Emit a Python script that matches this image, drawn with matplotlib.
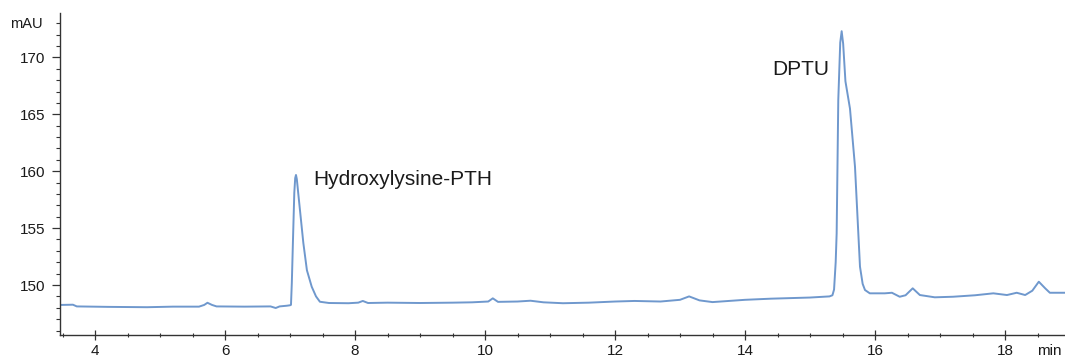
import matplotlib.pyplot as plt
from matplotlib.ticker import MultipleLocator

plt.rcParams['font.family'] = ['Liberation Sans', 'DejaVu Sans']

# Chromatogram trace (time in min, absorbance in mAU)
time_min = [3.47, 3.66, 3.72, 4.2, 4.8, 5.2, 5.6, 5.68, 5.73, 5.80, 5.87,
            6.3, 6.7, 6.78, 6.84, 6.95, 7.00, 7.015, 7.028, 7.045, 7.066,
            7.080, 7.092, 7.105, 7.126, 7.205, 7.26, 7.334, 7.40, 7.46, 7.6,
            7.9, 8.05, 8.12, 8.2, 8.5, 9.0, 9.5, 9.8, 10.05, 10.12, 10.2,
            10.5, 10.7, 10.9, 11.2, 11.6, 12.0, 12.3, 12.7, 13.0, 13.14,
            13.3, 13.5, 14.0, 14.4, 15.0, 15.3, 15.345, 15.37, 15.395, 15.41,
            15.435, 15.465, 15.487, 15.51, 15.545, 15.615, 15.692, 15.769,
            15.81, 15.846, 15.92, 16.15, 16.26, 16.38, 16.47, 16.58, 16.69,
            16.92, 17.2, 17.54, 17.82, 18.03, 18.18, 18.31, 18.42, 18.52,
            18.62, 18.69, 18.92]
absorb_mAU = [148.25, 148.27, 148.12, 148.08, 148.05, 148.10, 148.10, 148.25,
              148.44, 148.25, 148.12, 148.10, 148.12, 147.98, 148.12, 148.18,
              148.22, 148.26, 150.2, 153.8, 158.1, 159.4, 159.67, 159.3,
              158.1, 153.7, 151.3, 149.85, 149.0, 148.53, 148.42, 148.40,
              148.45, 148.6, 148.42, 148.45, 148.42, 148.45, 148.48, 148.55,
              148.83, 148.52, 148.55, 148.62, 148.48, 148.40, 148.45, 148.55,
              148.6, 148.55, 148.7, 149.0, 148.65, 148.5, 148.7, 148.8,
              148.9, 149.0, 149.1, 149.6, 152.0, 154.55, 166.26, 171.3,
              172.3, 171.2, 167.9, 165.5, 160.40, 151.61, 150.1, 149.56,
              149.27, 149.27, 149.32, 148.97, 149.1, 149.71, 149.12, 148.92,
              148.97, 149.1, 149.27, 149.12, 149.32, 149.12, 149.5, 150.29,
              149.7, 149.32, 149.32]

# Peak annotations: label, x, y, alignment
peak_labels = ['Hydroxylysine-PTH', 'DPTU']
peak_x = [7.36, 15.29]
peak_y = [158.79, 168.45]
peak_ha = ['left', 'right']

fig = plt.figure(figsize=(10.65, 3.59), dpi=100)
ax = fig.add_axes([0.0568, 0.0669, 0.9432, 0.8969])

ax.plot(time_min, absorb_mAU, color='#6f98cd', lw=1.4)

for lab, x, y, ha in zip(peak_labels, peak_x, peak_y, peak_ha):
    ax.text(x, y, lab, ha=ha, va='baseline', fontsize=15, color='#1a1a1a')

ax.set_xlim(3.469, 18.923)
ax.set_ylim(145.61, 173.9)

ax.xaxis.set_major_locator(MultipleLocator(2))
ax.xaxis.set_minor_locator(MultipleLocator(0.5))
ax.yaxis.set_major_locator(MultipleLocator(5))
ax.yaxis.set_minor_locator(MultipleLocator(1))

ax.spines['top'].set_visible(False)
ax.spines['right'].set_visible(False)
for s in ['left', 'bottom']:
    ax.spines[s].set_color('#333333')
    ax.spines[s].set_linewidth(1.0)

ax.tick_params(axis='y', which='major', direction='out', length=6, width=0.9,
               pad=5, labelsize=11, colors='#333333', labelcolor='#1a1a1a')
ax.tick_params(axis='y', which='minor', direction='out', length=3, width=0.8,
               colors='#333333')
ax.tick_params(axis='x', which='major', direction='inout', length=7, width=0.9,
               pad=3, labelsize=11, colors='#333333', labelcolor='#1a1a1a')
ax.tick_params(axis='x', which='minor', direction='inout', length=3, width=0.8,
               colors='#333333')

ax.annotate('min', xy=(18.5, 0), xycoords=('data', 'axes fraction'),
            xytext=(0, -6.5), textcoords='offset points', ha='left', va='top',
            fontsize=11, color='#1a1a1a')
fig.text(10 / 1065, 1 - 24 / 359, 'mAU', ha='left', va='center', fontsize=10.5,
         color='#1a1a1a')

plt.savefig('out.png', dpi=100)
plt.close()
